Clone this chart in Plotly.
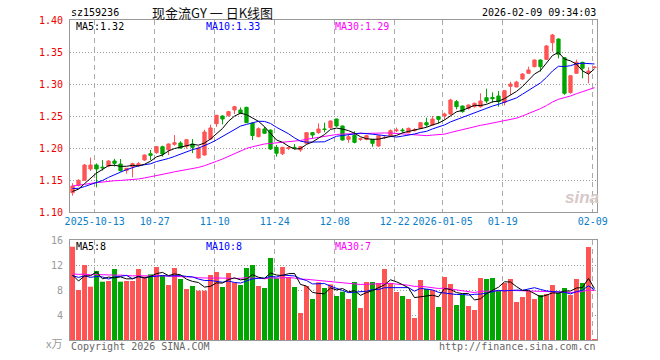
import plotly.graph_objects as go
import pandas as pd

# ---------------- data ----------------
dates = [
    "2025-09-29", "2025-09-30", "2025-10-09", "2025-10-10",
    "2025-10-13", "2025-10-14", "2025-10-15", "2025-10-16", "2025-10-17",
    "2025-10-20", "2025-10-21", "2025-10-22", "2025-10-23", "2025-10-24",
    "2025-10-27", "2025-10-28", "2025-10-29", "2025-10-30", "2025-10-31",
    "2025-11-03", "2025-11-04", "2025-11-05", "2025-11-06", "2025-11-07",
    "2025-11-10", "2025-11-11", "2025-11-12", "2025-11-13", "2025-11-14",
    "2025-11-17", "2025-11-18", "2025-11-19", "2025-11-20", "2025-11-21",
    "2025-11-24", "2025-11-25", "2025-11-26", "2025-11-27", "2025-11-28",
    "2025-12-01", "2025-12-02", "2025-12-03", "2025-12-04", "2025-12-05",
    "2025-12-08", "2025-12-09", "2025-12-10", "2025-12-11", "2025-12-12",
    "2025-12-15", "2025-12-16", "2025-12-17", "2025-12-18", "2025-12-19",
    "2025-12-22", "2025-12-23", "2025-12-24", "2025-12-25", "2025-12-26",
    "2025-12-29", "2025-12-30", "2025-12-31",
    "2026-01-05", "2026-01-06", "2026-01-07", "2026-01-08", "2026-01-09",
    "2026-01-12", "2026-01-13", "2026-01-14", "2026-01-15", "2026-01-16",
    "2026-01-19", "2026-01-20", "2026-01-21", "2026-01-22", "2026-01-23",
    "2026-01-26", "2026-01-27", "2026-01-28", "2026-01-29", "2026-01-30",
    "2026-02-02", "2026-02-03", "2026-02-04", "2026-02-05", "2026-02-06",
    "2026-02-09",
]

opens = [
    1.1302, 1.1417, 1.1495, 1.1672, 1.1734, 1.1700, 1.1719, 1.1797, 1.1750, 1.1650,
    1.1708, 1.1724, 1.1812, 1.1911, 1.1927, 1.2021, 1.1969, 1.2057, 1.2078, 1.2026,
    1.2063, 1.1844, 1.1890, 1.2140, 1.2380, 1.2500, 1.2505, 1.2594, 1.2594, 1.2635,
    1.2390, 1.2177, 1.2297, 1.2280, 1.2010, 1.1910, 1.1995, 1.2010, 1.1970, 1.2073,
    1.2240, 1.2240, 1.2297, 1.2318, 1.2453, 1.2344, 1.2135, 1.2198, 1.2135, 1.2135,
    1.2135, 1.2031, 1.2160, 1.2188, 1.2270, 1.2281, 1.2240, 1.2270, 1.2307, 1.2396,
    1.2360, 1.2490, 1.2500, 1.2531, 1.2724, 1.2656, 1.2620, 1.2646, 1.2646, 1.2786,
    1.2790, 1.2813, 1.2710, 1.2964, 1.2953, 1.3078, 1.3167, 1.3271, 1.3375, 1.3385,
    1.3646, 1.3703, 1.3411, 1.2865, 1.3167, 1.3339, 1.3177, 1.3255,
]
highs = [
    1.1450, 1.1510, 1.1750, 1.1850, 1.1760, 1.1812, 1.1810, 1.1830, 1.1828, 1.1690,
    1.1770, 1.1780, 1.1900, 1.1969, 1.2030, 1.2036, 1.2070, 1.2203, 1.2104, 1.2135,
    1.2140, 1.2026, 1.2286, 1.2365, 1.2520, 1.2510, 1.2580, 1.2660, 1.2635, 1.2646,
    1.2396, 1.2323, 1.2330, 1.2290, 1.2047, 1.2020, 1.2030, 1.2062, 1.2030, 1.2245,
    1.2250, 1.2385, 1.2396, 1.2430, 1.2458, 1.2350, 1.2203, 1.2260, 1.2160, 1.2200,
    1.2140, 1.2200, 1.2185, 1.2290, 1.2320, 1.2310, 1.2320, 1.2310, 1.2400, 1.2474,
    1.2500, 1.2500, 1.2552, 1.2770, 1.2750, 1.2660, 1.2680, 1.2710, 1.2854, 1.2927,
    1.2870, 1.2890, 1.2900, 1.3036, 1.3050, 1.3170, 1.3271, 1.3385, 1.3385, 1.3610,
    1.3781, 1.3710, 1.3420, 1.3140, 1.3380, 1.3345, 1.3260, 1.3275,
]
lows = [
    1.1255, 1.1400, 1.1495, 1.1640, 1.1385, 1.1646, 1.1700, 1.1710, 1.1630, 1.1600,
    1.1542, 1.1710, 1.1800, 1.1812, 1.1910, 1.1865, 1.1890, 1.2036, 1.1990, 1.1990,
    1.1920, 1.1833, 1.1880, 1.2130, 1.2330, 1.2370, 1.2490, 1.2530, 1.2530, 1.2390,
    1.2125, 1.2167, 1.2220, 1.1970, 1.1865, 1.1890, 1.1970, 1.1979, 1.1940, 1.2060,
    1.2151, 1.2220, 1.2245, 1.2300, 1.2330, 1.2115, 1.2083, 1.2073, 1.2110, 1.2120,
    1.2020, 1.2020, 1.2140, 1.2180, 1.2250, 1.2240, 1.2230, 1.2260, 1.2300, 1.2330,
    1.2350, 1.2385, 1.2440, 1.2520, 1.2604, 1.2552, 1.2600, 1.2630, 1.2630, 1.2698,
    1.2708, 1.2645, 1.2667, 1.2828, 1.2950, 1.3070, 1.3160, 1.3260, 1.3193, 1.3380,
    1.3505, 1.3400, 1.2830, 1.2850, 1.3160, 1.3090, 1.3010, 1.3250,
]
closes = [
    1.1406, 1.1495, 1.1734, 1.1734, 1.1672, 1.1690, 1.1797, 1.1760, 1.1646, 1.1682,
    1.1755, 1.1755, 1.1890, 1.1885, 1.2021, 1.1906, 1.2063, 1.2083, 1.2000, 1.2130,
    1.2010, 1.2000, 1.2250, 1.2313, 1.2510, 1.2453, 1.2568, 1.2646, 1.2542, 1.2396,
    1.2195, 1.2302, 1.2230, 1.1984, 1.1917, 1.2010, 1.2003, 1.2005, 1.2021, 1.2240,
    1.2203, 1.2297, 1.2290, 1.2422, 1.2344, 1.2125, 1.2177, 1.2088, 1.2145, 1.2193,
    1.2073, 1.2193, 1.2165, 1.2271, 1.2281, 1.2270, 1.2307, 1.2285, 1.2396, 1.2360,
    1.2453, 1.2448, 1.2531, 1.2750, 1.2646, 1.2568, 1.2672, 1.2698, 1.2734, 1.2734,
    1.2770, 1.2724, 1.2896, 1.3000, 1.3030, 1.3156, 1.3219, 1.3375, 1.3271, 1.3594,
    1.3766, 1.3464, 1.2854, 1.3130, 1.3339, 1.3245, 1.3203, 1.3263,
]
volumes = [  # 万
    14.93, 8.00, 12.00, 8.53, 11.04, 9.33, 9.44, 11.36, 9.33, 9.44,
    9.44, 11.36, 10.13, 10.50, 11.68, 10.40, 8.80, 11.52, 9.76, 8.16,
    8.64, 7.89, 7.89, 10.40, 10.88, 8.48, 10.72, 9.23, 8.80, 11.52,
    12.00, 8.64, 8.32, 13.12, 9.87, 11.68, 10.08, 8.48, 4.32, 8.64,
    6.56, 9.23, 8.32, 8.90, 7.04, 7.73, 6.56, 9.28, 5.12, 9.28,
    9.28, 9.12, 11.36, 9.12, 7.68, 7.04, 6.56, 3.52, 9.60, 8.16,
    8.00, 5.28, 10.08, 8.96, 5.60, 7.20, 5.44, 4.80, 9.92, 9.76,
    9.92, 7.84, 9.12, 9.76, 6.08, 6.88, 7.84, 6.56, 7.20, 7.36,
    8.80, 7.52, 8.32, 7.20, 9.76, 9.12, 14.88, 0.16,
]
# sessions before the visible window (needed for the moving averages)
prior_closes = [
    1.120, 1.124, 1.128, 1.132,
    1.140, 1.146, 1.150, 1.152, 1.154, 1.150,
    1.145, 1.142, 1.140, 1.139, 1.139,
    1.142, 1.148, 1.152, 1.155, 1.152, 1.148,
    1.145, 1.140, 1.138, 1.136,
    1.132, 1.130, 1.129, 1.129,
]
prior_volumes = [
    11.2, 10.4, 12.1, 9.8, 10.9, 11.5, 10.2, 9.6, 11.8, 10.7,
    10.3, 11.9, 10.1, 9.9, 11.4, 10.6, 10.8, 11.2, 9.9, 10.7,
    10.8, 9.6, 10.9, 9.7, 10.0,
    12.8, 8.0, 8.3, 7.97,
]
tick_dates = ["2025-10-13", "2025-10-27", "2025-11-10", "2025-11-24", "2025-12-08",
              "2025-12-22", "2026-01-05", "2026-01-19", "2026-02-09"]
tick_labels = ["2025-10-13", "10-27", "11-10", "11-24", "12-08",
               "12-22", "2026-01-05", "01-19", "02-09"]
price_ticks = [1.10, 1.15, 1.20, 1.25, 1.30, 1.35, 1.40]
vol_ticks = [4, 8, 12, 16]

# ---------------- derived ----------------
n = len(dates)
xs = list(range(n))
npc = len(prior_closes)
allc = pd.Series(prior_closes + closes)
allv = pd.Series(prior_volumes + volumes)
ma = {k: allc.rolling(k).mean().iloc[npc:].tolist() for k in (5, 10, 30)}
vma = {k: allv.rolling(k).mean().iloc[len(prior_volumes):].tolist() for k in (5, 10, 30)}

RED = "#ff5454"
GREEN = "#00a600"
vcolors = [RED if c >= o else GREEN for o, c in zip(opens, closes)]
tickpos = [dates.index(d) - 0.3 for d in tick_dates]

MONO = "DejaVu Sans Mono"
W, H = 660, 360
L, R, T, B = 70, 63, 20, 20
PW, PH = W - L - R, H - T - B


def px(x):
    return (x - L) / PW


def py(y):
    return (H - B - y) / PH


fig = go.Figure()
fig.add_trace(go.Candlestick(
    x=xs, open=opens, high=highs, low=lows, close=closes,
    increasing=dict(line=dict(color=RED, width=1), fillcolor=RED),
    decreasing=dict(line=dict(color=GREEN, width=1), fillcolor=GREEN),
    whiskerwidth=0, xaxis="x", yaxis="y", showlegend=False, hoverinfo="skip",
))
for k, col in ((30, "#ff00ff"), (10, "#0000ff"), (5, "#000000")):
    fig.add_trace(go.Scatter(x=xs, y=ma[k], mode="lines", line=dict(color=col, width=1),
                             xaxis="x", yaxis="y", showlegend=False, hoverinfo="skip"))

fig.add_trace(go.Bar(x=xs, y=volumes, marker=dict(color=vcolors, line=dict(width=0)),
                     width=0.83, xaxis="x2", yaxis="y2", showlegend=False, hoverinfo="skip"))
for k, col in ((30, "#ff00ff"), (10, "#0000ff"), (5, "#000000")):
    fig.add_trace(go.Scatter(x=xs, y=vma[k], mode="lines", line=dict(color=col, width=1),
                             xaxis="x2", yaxis="y2", showlegend=False, hoverinfo="skip"))

xr = [-0.42, n - 1 + 0.42]
common_x = dict(range=xr, showgrid=True, gridcolor="#aaaaaa", griddash="5px,4px", gridwidth=1,
                tickvals=tickpos, ticks="", showline=True, linecolor="#999999", linewidth=1,
                mirror=True, zeroline=False, fixedrange=True)
fig.update_layout(
    width=W, height=H, margin=dict(l=L, r=R, t=T, b=B, autoexpand=False),
    paper_bgcolor="white", plot_bgcolor="white",
    boxgap=0.22,
    xaxis=dict(common_x, domain=[0, 1], anchor="y", ticktext=tick_labels,
               tickfont=dict(family=MONO, size=10, color="#0a7ec8"),
               rangeslider=dict(visible=False)),
    yaxis=dict(domain=[py(212), 1], range=[1.10, 1.40], tickvals=price_ticks,
               ticktext=[f"{v:.2f}" for v in price_ticks], ticks="",
               tickfont=dict(family=MONO, size=10, color="#ee0000"), ticklabelstandoff=4,
               showgrid=True, gridcolor="#9a9a9a", griddash="1px,2px", gridwidth=1,
               showline=True, linecolor="#999999", mirror=True, zeroline=False,
               fixedrange=True),
    xaxis2=dict(common_x, domain=[0, 1], anchor="y2", matches="x", showticklabels=False),
    yaxis2=dict(domain=[0, py(240)], range=[0, 16], tickvals=vol_ticks,
                ticktext=[str(v) for v in vol_ticks], ticks="",
                tickfont=dict(family=MONO, size=10, color="#9a9a9a"), ticklabelstandoff=4,
                showgrid=True, gridcolor="#9a9a9a", griddash="1px,2px", gridwidth=1,
                showline=True, linecolor="#999999", mirror=True, zeroline=False,
                fixedrange=True),
    showlegend=False,
    hovermode=False,
)


def note(text, x, y, color="#000000", anchor="left", size=10, family=MONO, **kw):
    fig.add_annotation(text=text, x=px(x), y=py(y), xref="paper", yref="paper",
                       xanchor=anchor, yanchor="middle", showarrow=False,
                       font=dict(family=family, size=size, color=color), **kw)


note("sz159236", 69, 12)
note("现金流GY 一 日K线图", 150, 12, size=13, family="Noto Sans CJK SC", color="#111111")
note("2026-02-09 09:34:03", 598, 12, anchor="right")
note(f"MA5:{ma[5][-1]:.2f}", 74, 26)
note(f"MA10:{ma[10][-1]:.2f}", 204, 26, color="#0000ff")
note(f"MA30:{ma[30][-1]:.2f}", 333, 26, color="#ff00ff")
note(f"MA5:{int(vma[5][-1])}", 74, 246)
note(f"MA10:{int(vma[10][-1])}", 204, 246, color="#0000ff")
note(f"MA30:{int(vma[30][-1])}", 333, 246, color="#ff00ff")
note("x万", 64, 343, color="#9a9a9a", anchor="right", size=11, family="Noto Sans CJK SC")
note("Copyright 2026 SINA.COM", 69, 346, color="#666666")
note("http://finance.sina.com.cn", 598, 346, color="#666666", anchor="right")
note("<i><b>sina</b></i>", 582, 197, color="#d6c9c9", anchor="center", size=17,
     family="Liberation Sans")

fig.write_html("out.html", config={"displayModeBar": False, "staticPlot": True},
               post_script="document.body.style.margin='0';document.body.style.padding='0';")
